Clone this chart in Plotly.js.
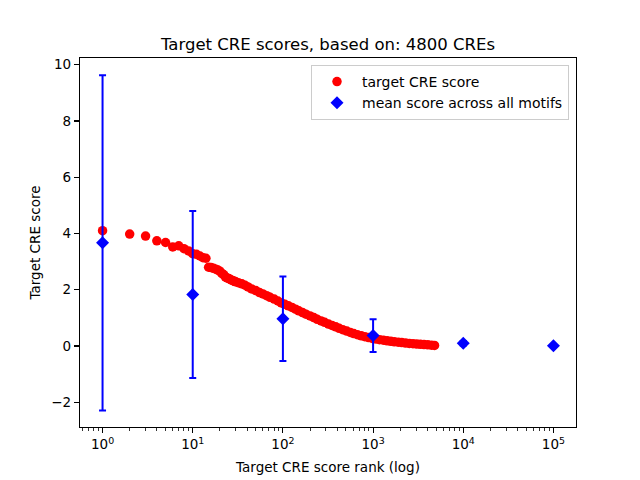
<!DOCTYPE html>
<html>
<head>
<meta charset="utf-8">
<script src="https://cdn.plot.ly/plotly-3.0.1.min.js"></script>
<style>html,body{margin:0;padding:0;background:#fff;}#chart{width:640px;height:480px;}</style>
</head>
<body>
<div id="chart"></div>
<script>
// Target CRE scores (rank, score)
const creRanks = [1,2,3,4,5,6,7,8,9,10,11,12,13,14,15,16,17,18,19,20,21,22,23,24,25,26,27,28,29,30,
  32,35,38,41,45,50,55,60,66,72,80,88,96,105,115,126,138,150,165,180,200,220,240,265,290,320,350,385,420,460,
  510,560,610,670,740,810,890,980,1080,1180,1300,1430,1570,1720,1900,2080,2290,2520,2770,3040,3340,3670,4040,4440,4800];
const creScores = [4.10,3.98,3.91,3.74,3.68,3.52,3.56,3.46,3.38,3.28,3.26,3.20,3.14,3.12,2.80,2.79,2.76,2.73,2.70,2.66,2.58,2.54,2.46,2.42,2.40,2.37,2.34,2.32,2.30,2.28,
  2.25,2.21,2.16,2.10,2.03,1.97,1.90,1.85,1.79,1.73,1.67,1.60,1.53,1.48,1.43,1.37,1.31,1.25,1.19,1.13,1.07,1.01,0.95,0.89,0.84,0.78,0.73,0.68,0.63,0.58,
  0.53,0.48,0.44,0.40,0.36,0.33,0.30,0.27,0.245,0.225,0.205,0.185,0.165,0.15,0.135,0.12,0.105,0.09,0.08,0.07,0.06,0.05,0.04,0.03,0.02];

// Mean score across all motifs with error bars
const motifRanks = [1,10,100,1000,10000,100000];
const motifMeans = [3.67,1.83,0.97,0.37,0.10,0.01];
const motifErrors = [5.96,2.97,1.50,0.58,0.08,0.02];

const xTickVals = [1,10,100,1000,10000,100000];
const xTickText = ['10<sup>0</sup>','10<sup>1</sup>','10<sup>2</sup>','10<sup>3</sup>','10<sup>4</sup>','10<sup>5</sup>'];
const yTickVals = [-2,0,2,4,6,8,10];
const yTickText = ['\u22122','0','2','4','6','8','10'];

const minorVals = [];
for (let d = 0; d < 6; d++) {
  for (let m = 2; m <= 9; m++) minorVals.push(m * Math.pow(10, d));
}
minorVals.unshift(0.6,0.7,0.8,0.9);

const font = {family: 'DejaVu Sans', size: 13.5, color: '#000'};

const traces = [
  {
    x: creRanks, y: creScores, type: 'scatter', mode: 'markers',
    name: 'target CRE score',
    marker: {color: '#ff0000', size: 9.5, symbol: 'circle'}
  },
  {
    x: motifRanks, y: motifMeans, type: 'scatter', mode: 'markers',
    name: 'mean score across all motifs',
    marker: {color: '#0000ff', size: 10, symbol: 'diamond'},
    error_y: {type: 'data', array: motifErrors, visible: true, color: '#0000ff', thickness: 2, width: 3.5}
  }
];

const layout = {
  width: 640, height: 480,
  margin: {l: 80, r: 64, t: 58, b: 53, pad: 0},
  paper_bgcolor: '#fff', plot_bgcolor: '#fff',
  font: font,
  showlegend: true,
  title: {text: 'Target CRE scores, based on: 4800 CREs', font: {family: 'DejaVu Sans', size: 16.5, color: '#000'},
    x: 0.5, xref: 'paper', y: 1 - 44/480, yref: 'container', yanchor: 'middle'},
  xaxis: {
    type: 'log', range: [-0.25, 5.25],
    tickmode: 'array', tickvals: xTickVals, ticktext: xTickText,
    ticks: 'outside', ticklen: 5, tickwidth: 1.1, tickcolor: '#000',
    showgrid: false, zeroline: false,
    showline: true, linecolor: '#000', linewidth: 1.1, mirror: true,
    minor: {tickmode: 'array', tickvals: minorVals, ticks: 'outside', ticklen: 2.8, tickwidth: 0.8, tickcolor: '#000', showgrid: false},
    title: {text: 'Target CRE score rank (log)', font: font, standoff: 11},
    tickfont: font
  },
  yaxis: {
    range: [-2.88, 10.24],
    tickmode: 'array', tickvals: yTickVals, ticktext: yTickText,
    ticks: 'outside', ticklen: 5, tickwidth: 1.1, tickcolor: '#000',
    showgrid: false, zeroline: false,
    showline: true, linecolor: '#000', linewidth: 1.1, mirror: true,
    title: {text: 'Target CRE score', font: font, standoff: 7},
    tickfont: font
  },
  legend: {
    x: 1 - 7/496, xanchor: 'right', y: 1 - 7/370, yanchor: 'top',
    bgcolor: 'rgba(255,255,255,0.8)', bordercolor: '#cccccc', borderwidth: 1,
    font: {family: 'DejaVu Sans', size: 14, color: '#000'}, tracegroupgap: 0, itemwidth: 40
  }
};

Plotly.newPlot('chart', traces, layout, {staticPlot: true, displayModeBar: false});
</script>
</body>
</html>
